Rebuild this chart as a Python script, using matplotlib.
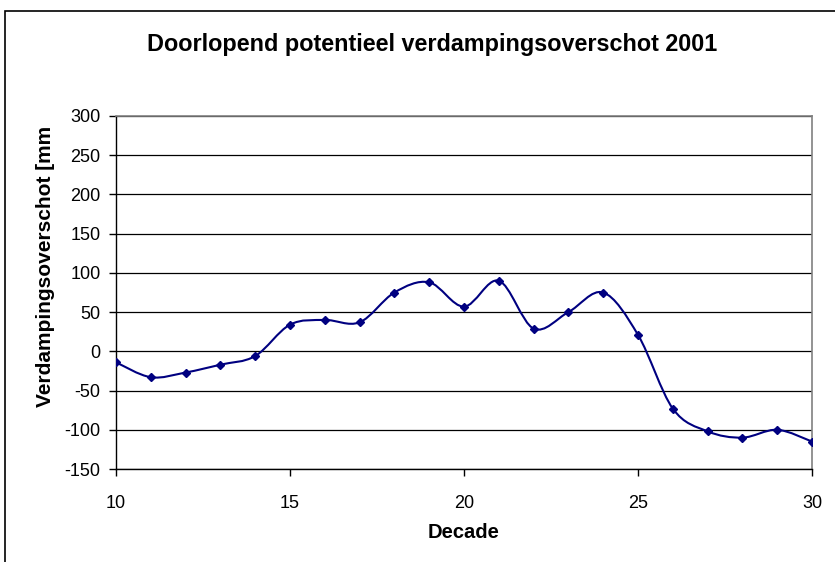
import numpy as np
import matplotlib.pyplot as plt
from matplotlib.path import Path
from matplotlib.patches import PathPatch, Rectangle

plt.rcParams['font.family'] = ['Liberation Sans', 'DejaVu Sans']
plt.rcParams['axes.unicode_minus'] = False

# decaden en doorlopend verdampingsoverschot (mm)
decade = [10, 11, 12, 13, 14, 15, 16, 17, 18, 19, 20,
          21, 22, 23, 24, 25, 26, 27, 28, 29, 30]
overschot = [-14, -33, -27, -17, -6, 34, 40, 37, 75, 88, 57,
             90, 29, 50, 75, 21, -73, -102, -110, -100, -115]
yticks = [-150, -100, -50, 0, 50, 100, 150, 200, 250, 300]
xticks = [10, 15, 20, 25, 30]


def smooth_path(x, y):
    # vloeiende lijn door de punten (Bezier-segmenten, Catmull-Rom)
    p = np.column_stack([x, y]).astype(float)
    p = np.vstack([p[0], p, p[-1]])
    verts = [p[1]]
    codes = [Path.MOVETO]
    for i in range(1, len(p) - 2):
        c1 = p[i] + (p[i + 1] - p[i - 1]) / 6
        c2 = p[i + 1] - (p[i + 2] - p[i]) / 6
        verts += [c1, c2, p[i + 1]]
        codes += [Path.CURVE4] * 3
    return Path(verts, codes)


W, H = 835, 562
fig = plt.figure(figsize=(W / 100, H / 100), dpi=100)

# kader om de grafiek
fig.patches.append(Rectangle((5 / W, -0.1), 1.2, (H - 11) / H + 0.1,
                             transform=fig.transFigure, fill=False,
                             edgecolor='black', linewidth=1.2))

ax = fig.add_axes([116 / W, (H - 469) / H, (812 - 116) / W, (469 - 116) / H])

ax.add_patch(PathPatch(smooth_path(decade, overschot), fill=False,
                       edgecolor='#000080', linewidth=1.5, zorder=3))
ax.plot(decade, overschot, linestyle='none', marker='D', markersize=3.6,
        color='#000080', zorder=4)

ax.set_xlim(10, 30)
ax.set_ylim(-150, 300)
ax.set_xticks(xticks)
ax.set_yticks(yticks)
ax.yaxis.grid(True, color='black', linewidth=0.9)
ax.set_axisbelow(True)

for s in ['top', 'right']:
    ax.spines[s].set_color('#808080')
    ax.spines[s].set_linewidth(1.2)
for s in ['left', 'bottom']:
    ax.spines[s].set_color('black')
    ax.spines[s].set_linewidth(1.0)

ax.tick_params(axis='both', direction='out', length=5, width=1,
               labelsize=13, colors='black')
ax.tick_params(axis='x', pad=14)
ax.tick_params(axis='y', pad=6)

fig.text(432 / W, 1 - 44 / H, 'Doorlopend potentieel verdampingsoverschot 2001',
         ha='center', va='center', fontsize=16.8, fontweight='bold')
fig.text(464 / W, 1 - 533 / H, 'Decade', ha='center', va='center',
         fontsize=14.5, fontweight='bold')
fig.text(46 / W, 1 - 266 / H, 'Verdampingsoverschot [mm', ha='center',
         va='center', rotation=90, fontsize=15, fontweight='bold')

fig.savefig('out.png', dpi=100)
